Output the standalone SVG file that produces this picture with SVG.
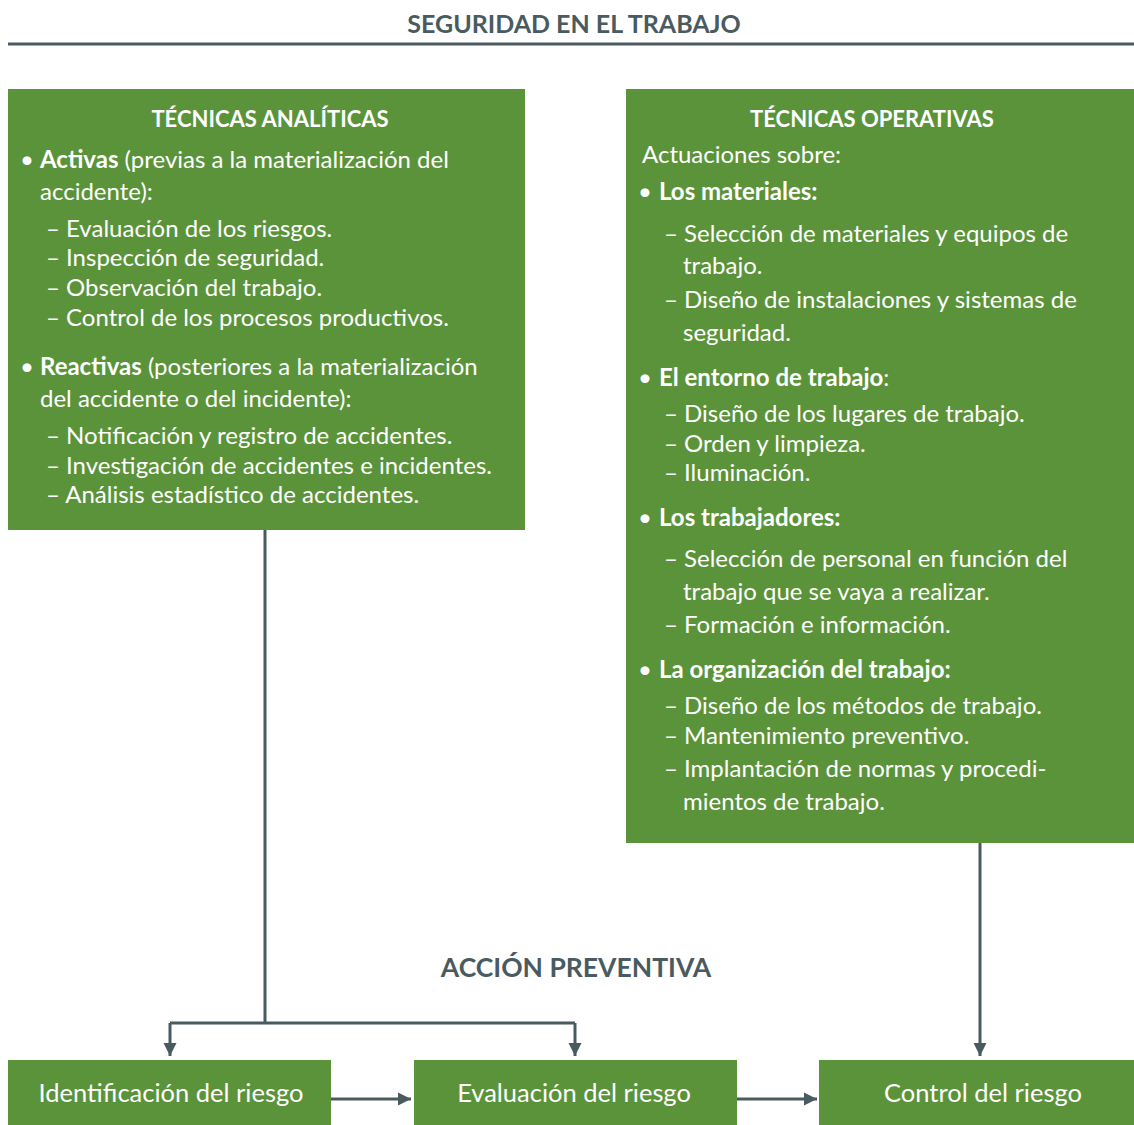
<svg xmlns="http://www.w3.org/2000/svg" width="1134" height="1125" viewBox="0 0 1134 1125">
<style>
.box{fill:#5b933a}
.t{font-family:Lato,"Liberation Sans",sans-serif;font-size:24px;fill:#ffffff}
.b{font-weight:bold}
.h{font-family:Lato,"Liberation Sans",sans-serif;font-size:22px;font-weight:bold;fill:#ffffff;text-anchor:middle}
.title{font-family:Lato,"Liberation Sans",sans-serif;font-size:25px;font-weight:bold;fill:#4a5a61;text-anchor:middle}
.sub{font-family:Lato,"Liberation Sans",sans-serif;font-size:26.5px;font-weight:bold;fill:#4a5a61;text-anchor:middle}
.lbl{font-family:Lato,"Liberation Sans",sans-serif;font-size:25.5px;fill:#ffffff;text-anchor:middle}
.c{fill:none;stroke:#4a5a61;stroke-width:3}
</style>
<defs>
<marker id="ah" viewBox="0 0 10 10" refX="10" refY="5" markerWidth="4.5" markerHeight="4.5" orient="auto" markerUnits="strokeWidth">
<path d="M0,0 L10,5 L0,10 Z" fill="#4a5a61"/>
</marker>
</defs>
<g id="header">
<text class="title" x="574" y="33">SEGURIDAD EN EL TRABAJO</text>
<line x1="8" y1="44" x2="1134" y2="44" stroke="#4a5a61" stroke-width="3"/>
</g>
<g id="tecnicas-analiticas">
<rect class="box" x="8" y="89" width="517" height="441"/>
<text class="h" x="270" y="127">TÉCNICAS ANALÍTICAS</text>
<text class="t" x="20" y="168">•</text>
<text class="t" x="40" y="168"><tspan class="b">Activas</tspan> (previas a la materialización del</text>
<text class="t" x="40" y="200">accidente):</text>
<text class="t" x="46" y="237">– Evaluación de los riesgos.</text>
<text class="t" x="46" y="266">– Inspección de seguridad.</text>
<text class="t" x="46" y="296">– Observación del trabajo.</text>
<text class="t" x="46" y="326">– Control de los procesos productivos.</text>
<text class="t" x="20" y="375">•</text>
<text class="t" x="40" y="375"><tspan class="b">Reactivas</tspan> (posteriores a la materialización</text>
<text class="t" x="40" y="407">del accidente o del incidente):</text>
<text class="t" x="46" y="444">– Notificación y registro de accidentes.</text>
<text class="t" x="46" y="474">– Investigación de accidentes e incidentes.</text>
<text class="t" x="46" y="503">– Análisis estadístico de accidentes.</text>
</g>
<g id="tecnicas-operativas">
<rect class="box" x="626" y="89" width="508" height="754"/>
<text class="h" x="872" y="127">TÉCNICAS OPERATIVAS</text>
<text class="t" x="642" y="163">Actuaciones sobre:</text>
<text class="t" x="638" y="200">•</text>
<text class="t b" x="659" y="200">Los materiales:</text>
<text class="t" x="664" y="242">– Selección de materiales y equipos de</text>
<text class="t" x="683" y="274">trabajo.</text>
<text class="t" x="664" y="308">– Diseño de instalaciones y sistemas de</text>
<text class="t" x="683" y="341">seguridad.</text>
<text class="t" x="638" y="386">•</text>
<text class="t" x="659" y="386"><tspan class="b">El entorno de trabajo</tspan>:</text>
<text class="t" x="664" y="422">– Diseño de los lugares de trabajo.</text>
<text class="t" x="664" y="452">– Orden y limpieza.</text>
<text class="t" x="664" y="481">– Iluminación.</text>
<text class="t" x="638" y="526">•</text>
<text class="t b" x="659" y="526">Los trabajadores:</text>
<text class="t" x="664" y="567">– Selección de personal en función del</text>
<text class="t" x="683" y="600">trabajo que se vaya a realizar.</text>
<text class="t" x="664" y="633">– Formación e información.</text>
<text class="t" x="638" y="678">•</text>
<text class="t b" x="659" y="678">La organización del trabajo:</text>
<text class="t" x="664" y="714">– Diseño de los métodos de trabajo.</text>
<text class="t" x="664" y="744">– Mantenimiento preventivo.</text>
<text class="t" x="664" y="777">– Implantación de normas y procedi-</text>
<text class="t" x="683" y="810">mientos de trabajo.</text>
</g>
<g id="accion-preventiva-label">
<text class="sub" x="576" y="977">ACCIÓN PREVENTIVA</text>
</g>
<g id="identificacion">
<rect class="box" x="8" y="1060" width="323" height="65"/>
<text class="lbl" x="171" y="1102">Identificación del riesgo</text>
</g>
<g id="evaluacion">
<rect class="box" x="414" y="1060" width="323" height="65"/>
<text class="lbl" x="574" y="1102">Evaluación del riesgo</text>
</g>
<g id="control">
<rect class="box" x="819" y="1060" width="315" height="65"/>
<text class="lbl" x="983" y="1102">Control del riesgo</text>
</g>
<g id="connectors">
<path class="c" d="M265,530 V1023"/>
<path class="c" d="M170,1023 H575"/>
<path class="c" d="M170,1023 V1056" marker-end="url(#ah)"/>
<path class="c" d="M575,1023 V1056" marker-end="url(#ah)"/>
<path class="c" d="M980,843 V1056" marker-end="url(#ah)"/>
<path class="c" d="M331,1099 H411" marker-end="url(#ah)"/>
<path class="c" d="M737,1099 H817" marker-end="url(#ah)"/>
</g>
</svg>
